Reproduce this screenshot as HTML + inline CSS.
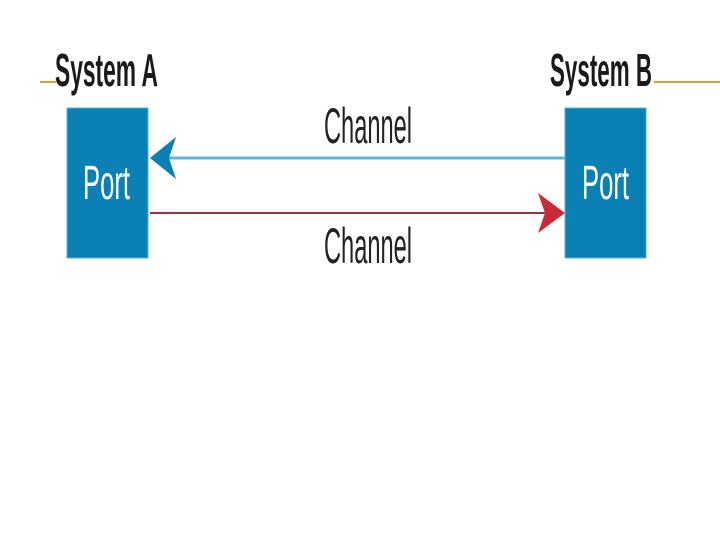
<!DOCTYPE html>
<html><head><style>html,body{margin:0;padding:0;background:#fff;}svg{display:block}</style></head>
<body>
<svg width="720" height="540" xmlns="http://www.w3.org/2000/svg" font-family="'Liberation Sans Narrow','Liberation Sans',sans-serif">
<line x1="40" y1="82" x2="56" y2="82" stroke="#e0a030" stroke-width="2"/>
<line x1="654" y1="82" x2="720" y2="82" stroke="#e0a030" stroke-width="2"/>
<text x="55" y="86" font-size="46" font-weight="bold" fill="#1a1a1a" textLength="103" lengthAdjust="spacingAndGlyphs">System A</text>
<text x="550" y="86" font-size="46" font-weight="bold" fill="#1a1a1a" textLength="102" lengthAdjust="spacingAndGlyphs">System B</text>
<rect x="67" y="108" width="81" height="150" fill="#0a80b5" stroke="#5ab0d8" stroke-width="1"/>
<rect x="565" y="108" width="81" height="150" fill="#0a80b5" stroke="#5ab0d8" stroke-width="1"/>
<text x="83" y="199" font-size="48" fill="#fff" textLength="47" lengthAdjust="spacingAndGlyphs">Port</text>
<text x="582" y="199" font-size="48" fill="#fff" textLength="47" lengthAdjust="spacingAndGlyphs">Port</text>
<line x1="165" y1="158" x2="565" y2="158" stroke="#5ab4dc" stroke-width="3"/>
<line x1="150" y1="213" x2="550" y2="213" stroke="#a03040" stroke-width="2"/>
<polygon points="150,158 176,137 169,158 176,179" fill="#0a80b5"/>
<polygon points="565,213 538,193 545,213 538,233" fill="#cc2a3a"/>
<text x="324" y="143" font-size="50" fill="#222" textLength="88" lengthAdjust="spacingAndGlyphs">Channel</text>
<text x="324" y="263" font-size="50" fill="#222" textLength="88" lengthAdjust="spacingAndGlyphs">Channel</text>
</svg>
</body></html>
